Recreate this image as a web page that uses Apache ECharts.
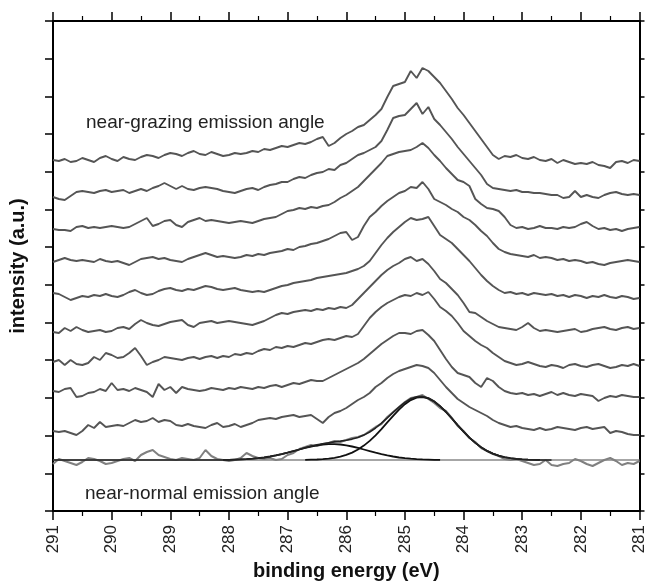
<!DOCTYPE html>
<html lang="en">
<head>
<meta charset="UTF-8">
<title>C 1s angle-resolved spectra</title>
<script src="https://cdn.jsdelivr.net/npm/echarts@6/dist/echarts.min.js"></script>
<style>body{margin:0;background:#fff}</style>
</head>
<body>
<div id="main" style="width:648px;height:587px"></div>
<script>
// binding energy grid (eV), 0.1 eV steps
var energy = [291.0,290.9,290.8,290.7,290.6,290.5,290.4,290.3,290.2,290.1,
  290.0,289.9,289.8,289.7,289.6,289.5,289.4,289.3,289.2,289.1,
  289.0,288.9,288.8,288.7,288.6,288.5,288.4,288.3,288.2,288.1,
  288.0,287.9,287.8,287.7,287.6,287.5,287.4,287.3,287.2,287.1,
  287.0,286.9,286.8,286.7,286.6,286.5,286.4,286.3,286.2,286.1,
  286.0,285.9,285.8,285.7,285.6,285.5,285.4,285.3,285.2,285.1,
  285.0,284.9,284.8,284.7,284.6,284.5,284.4,284.3,284.2,284.1,
  284.0,283.9,283.8,283.7,283.6,283.5,283.4,283.3,283.2,283.1,
  283.0,282.9,282.8,282.7,282.6,282.5,282.4,282.3,282.2,282.1,
  282.0,281.9,281.8,281.7,281.6,281.5,281.4,281.3,281.2,281.1,281.0];

// stacked spectra, top (near-grazing) to bottom (near-normal), offset intensity (a.u.)
var spec1 = [351,350,352,349,350,353,351,349,353,355,352,350,354,352,351,354,356,355,353,356,
  358,357,355,358,360,357,356,359,357,355,356,358,357,358,360,359,362,361,363,365,
  364,366,368,367,369,372,374,365,368,373,377,380,384,386,391,396,402,414,425,427,
  429,440,433,443,440,434,428,420,412,403,396,388,380,372,364,356,352,355,354,356,
  353,352,354,351,350,352,348,351,349,347,348,347,349,346,345,343,349,350,348,351,350];
var spec2 = [314,312,311,315,319,320,319,318,320,321,319,320,321,318,320,322,320,323,325,328,
  325,322,325,322,321,323,324,323,322,320,319,318,320,322,323,321,324,326,327,329,
  329,332,334,333,336,338,339,342,341,346,348,352,356,358,361,364,370,381,393,395,
  396,402,408,397,404,392,386,379,372,364,357,350,343,336,327,323,322,321,320,321,
  319,319,318,318,317,316,316,313,314,320,314,316,314,313,316,318,319,317,316,317,316];
var spec3 = [282,281,281,280,284,285,283,284,283,284,285,284,283,284,287,290,293,285,287,290,
  291,286,284,289,291,293,290,291,290,289,288,289,290,289,288,290,292,293,294,297,
  300,301,303,302,304,303,305,306,309,313,316,320,324,330,336,342,348,355,357,359,
  360,361,364,368,363,356,350,343,337,331,329,325,312,307,303,302,300,294,286,283,
  284,282,283,285,283,283,282,284,283,284,287,289,285,282,283,281,282,280,282,283,284];
var spec4 = [249,251,253,251,250,251,250,249,252,250,249,250,248,246,249,252,253,254,252,253,
  251,250,249,252,254,256,258,256,254,255,254,253,254,256,255,257,256,258,259,260,
  262,261,264,265,267,268,270,272,275,278,279,271,274,285,294,299,305,310,314,318,
  320,324,323,329,322,312,309,306,302,299,294,291,286,280,275,268,262,259,257,256,
  255,254,256,253,254,253,251,252,250,251,250,248,249,247,246,248,249,250,251,250,249];
var spec5 = [218,217,214,211,213,215,214,216,215,217,215,214,216,219,221,218,216,217,220,222,
  223,221,220,222,221,223,225,224,222,221,222,223,221,220,219,220,219,221,223,225,
  226,228,229,230,231,233,234,235,236,237,238,240,242,245,250,258,266,273,279,284,
  289,293,291,292,294,285,276,272,268,262,256,250,243,236,230,225,221,218,219,217,
  218,216,218,217,216,217,215,216,214,216,215,213,215,214,216,214,213,215,214,212,213];
var spec6 = [179,178,183,180,184,181,179,180,181,179,180,183,184,182,187,191,188,186,185,187,
  189,190,191,186,184,188,189,190,188,189,190,189,188,187,186,188,190,193,196,198,
  197,199,200,201,200,202,201,203,202,204,203,206,212,218,224,230,236,241,245,248,
  252,254,250,252,247,240,232,228,222,216,208,199,198,194,190,187,184,183,182,181,
  184,188,183,180,181,180,179,180,181,182,179,180,182,183,184,182,181,183,184,182,183];
var spec7 = [149,151,146,151,147,146,148,154,151,158,156,153,154,158,163,155,146,149,151,154,
  153,152,151,153,154,152,154,155,153,155,154,157,156,158,157,160,162,161,164,163,
  165,164,166,168,167,169,171,172,171,173,175,174,177,185,193,199,204,208,211,214,
  216,215,218,216,219,212,204,200,195,188,180,175,170,166,163,158,154,150,148,146,
  147,149,147,145,144,146,145,143,146,147,145,144,146,147,145,143,144,146,145,147,145];
var spec8 = [120,119,122,123,114,115,118,119,122,120,128,121,122,120,123,121,119,114,127,121,
  124,118,124,122,121,120,121,123,122,121,123,122,124,123,122,124,123,125,126,124,
  126,128,127,129,131,130,130,133,136,139,142,145,148,152,157,162,167,171,175,178,
  178,177,180,181,176,170,161,152,144,138,136,134,128,124,133,130,124,120,118,117,
  118,116,117,115,117,119,116,118,116,115,117,116,115,110,113,115,114,116,115,114,114];
var spec9 = [80,79,80,78,76,80,86,83,89,84,85,86,85,88,91,89,90,93,89,91,
  90,86,85,87,85,84,83,86,88,84,85,87,84,86,88,91,92,93,92,94,
  95,96,94,95,96,92,88,94,98,100,103,107,111,114,118,124,128,133,137,140,
  142,144,146,145,143,138,131,124,118,112,108,104,101,98,95,91,88,86,84,85,
  83,82,81,83,81,82,84,83,82,81,83,84,82,83,84,78,80,79,77,76,76];
var spec10 = [47,52,50,48,46,49,53,52,50,47,48,50,52,53,50,56,59,61,56,54,
  52,51,53,52,51,53,61,55,52,51,50,51,53,58,55,53,52,53,51,52,
  56,58,62,64,66,65,67,68,70,69,71,73,74,76,80,84,87,94,99,104,
  109,113,114,116,112,108,103,100,93,85,80,73,69,63,60,57,55,52,51,52,
  50,48,46,47,51,46,45,47,48,52,50,47,45,48,51,53,50,46,48,47,50];

// peak fit of the near-normal spectrum
var fitBaseline = [[291, 51], [281, 51]];
var fitMinor = [[288.1,51.1],[288.0,51.2],[287.9,51.4],[287.8,51.6],[287.7,51.9],[287.6,52.3],
  [287.5,52.8],[287.4,53.5],[287.3,54.5],[287.2,55.6],[287.1,56.9],[287.0,58.3],[286.9,59.9],
  [286.8,61.5],[286.7,63.1],[286.6,64.5],[286.5,65.7],[286.4,66.5],[286.3,66.9],[286.2,66.9],
  [286.1,66.5],[286.0,65.7],[285.9,64.5],[285.8,63.1],[285.7,61.5],[285.6,59.9],[285.5,58.3],
  [285.4,56.9],[285.3,55.6],[285.2,54.5],[285.1,53.5],[285.0,52.8],[284.9,52.3],[284.8,51.9],
  [284.7,51.6],[284.6,51.4],[284.5,51.2],[284.4,51.1]];
var fitMain = [[286.7,51.1],[286.6,51.3],[286.5,51.5],[286.4,51.8],[286.3,52.4],[286.2,53.2],
  [286.1,54.4],[286.0,56.1],[285.9,58.4],[285.8,61.5],[285.7,65.4],[285.6,70.1],[285.5,75.7],
  [285.4,81.9],[285.3,88.6],[285.2,95.2],[285.1,101.4],[285.0,106.8],[284.9,110.9],[284.8,113.4],
  [284.7,114.0],[284.6,112.6],[284.5,109.5],[284.4,104.8],[284.3,99.0],[284.2,92.6],[284.1,85.9],
  [284.0,79.4],[283.9,73.4],[283.8,68.1],[283.7,63.7],[283.6,60.1],[283.5,57.4],[283.4,55.3],
  [283.3,53.8],[283.2,52.8],[283.1,52.1],[283.0,51.7],[282.9,51.4],[282.8,51.2],[282.7,51.1]];
var fitSum = [[291.0,51.0],[288.1,51.1],[288.0,51.2],[287.9,51.4],[287.8,51.6],[287.7,51.9],[287.6,52.3],[287.5,52.8],
  [287.4,53.5],[287.3,54.5],[287.2,55.6],[287.1,56.9],[287.0,58.4],[286.9,60.0],[286.8,61.6],
  [286.7,63.3],[286.6,64.8],[286.5,66.2],[286.4,67.3],[286.3,68.3],[286.2,69.1],[286.1,69.9],
  [286.0,70.8],[285.9,71.9],[285.8,73.6],[285.7,75.9],[285.6,79.0],[285.5,83.0],[285.4,87.8],
  [285.3,93.2],[285.2,98.7],[285.1,103.9],[285.0,108.6],[284.9,112.2],[284.8,114.3],[284.7,114.6],
  [284.6,113.0],[284.5,109.7],[284.4,104.9],[284.3,99.0],[284.2,92.6],[284.1,85.9],[284.0,79.4],
  [283.9,73.4],[283.8,68.1],[283.7,63.7],[283.6,60.1],[283.5,57.4],[283.4,55.3],[283.3,53.8],
  [283.2,52.8],[283.1,52.1],[283.0,51.7],[282.9,51.4],[282.8,51.2],[282.7,51.1],[282.5,51.0]];

var spectra = [spec1, spec2, spec3, spec4, spec5, spec6, spec7, spec8, spec9];
var xTicks = [291, 290, 289, 288, 287, 286, 285, 284, 283, 282, 281];
var yMax = 490;
var yStep = yMax / 13;

var chartDom = document.getElementById('main');
var myChart = echarts.init(chartDom);
var font = 'Liberation Sans, Arial, sans-serif';

function pairs(vals) {
    var out = [];
    for (var i = 0; i < vals.length; i++) {
        out.push([energy[i], vals[i]]);
    }
    return out;
}

var series = [];
for (var k = 0; k < spectra.length; k++) {
    series.push({
        type: 'line', data: pairs(spectra[k]), showSymbol: false,
        lineStyle: { color: '#555', width: 1.9 }, z: 2
    });
}
series.push({ type: 'line', data: fitBaseline, showSymbol: false,
    lineStyle: { color: '#888', width: 1.5 }, z: 1 });
series.push({ type: 'line', data: pairs(spec10), showSymbol: false,
    lineStyle: { color: '#808080', width: 2 }, z: 2 });
series.push({ type: 'line', data: fitMinor, showSymbol: false,
    lineStyle: { color: '#111', width: 1.8 }, z: 3 });
series.push({ type: 'line', data: fitMain, showSymbol: false,
    lineStyle: { color: '#111', width: 1.8 }, z: 3 });
series.push({ type: 'line', data: fitSum, showSymbol: false,
    lineStyle: { color: '#222', width: 1.6 }, z: 3 });

var axLine = { show: true, onZero: false, lineStyle: { color: '#000', width: 2 } };

var option = {
    animation: false,
    backgroundColor: '#fff',
    grid: { left: 52, right: 5, top: 21, bottom: 76 },
    xAxis: [{
        type: 'value', min: 281, max: 291, interval: 1, inverse: true,
        position: 'bottom',
        name: 'binding energy (eV)', nameLocation: 'middle', nameGap: 50,
        nameTextStyle: { fontFamily: font, fontSize: 20, fontWeight: 'bold', color: '#111' },
        axisLine: axLine,
        axisTick: { show: true, length: 9, lineStyle: { color: '#000', width: 1.5 } },
        minorTick: { show: true, splitNumber: 2, length: 5, lineStyle: { color: '#000', width: 1.2 } },
        axisLabel: { rotate: 90, margin: 14, fontFamily: font, fontSize: 17, color: '#222',
            formatter: function (v) { return xTicks.indexOf(v) >= 0 ? String(v) : ''; } },
        splitLine: { show: false }
    }, {
        type: 'value', min: 281, max: 291, interval: 1, inverse: true,
        position: 'top',
        axisLine: axLine,
        axisTick: { show: true, length: 9, lineStyle: { color: '#000', width: 1.5 } },
        minorTick: { show: true, splitNumber: 2, length: 5, lineStyle: { color: '#000', width: 1.2 } },
        axisLabel: { show: false },
        splitLine: { show: false }
    }],
    yAxis: [{
        type: 'value', min: 0, max: yMax, interval: yStep, position: 'left',
        name: 'intensity (a.u.)', nameLocation: 'middle', nameGap: 25,
        nameTextStyle: { fontFamily: font, fontSize: 20, fontWeight: 'bold', color: '#111' },
        axisLine: axLine,
        axisTick: { show: true, length: 8, lineStyle: { color: '#000', width: 1.5 } },
        axisLabel: { show: false },
        splitLine: { show: false }
    }, {
        type: 'value', min: 0, max: yMax, interval: yStep, position: 'right',
        axisLine: axLine,
        axisTick: { show: true, length: 5, lineStyle: { color: '#000', width: 1.5 } },
        axisLabel: { show: false },
        splitLine: { show: false }
    }],
    graphic: [{
        type: 'text', left: 86, top: 113,
        style: { text: 'near-grazing emission angle', fontFamily: font, fontSize: 19, fill: '#222' }
    }, {
        type: 'text', left: 85, top: 484,
        style: { text: 'near-normal emission angle', fontFamily: font, fontSize: 19, fill: '#222' }
    }],
    series: series
};

option && myChart.setOption(option);
</script>
</body>
</html>
